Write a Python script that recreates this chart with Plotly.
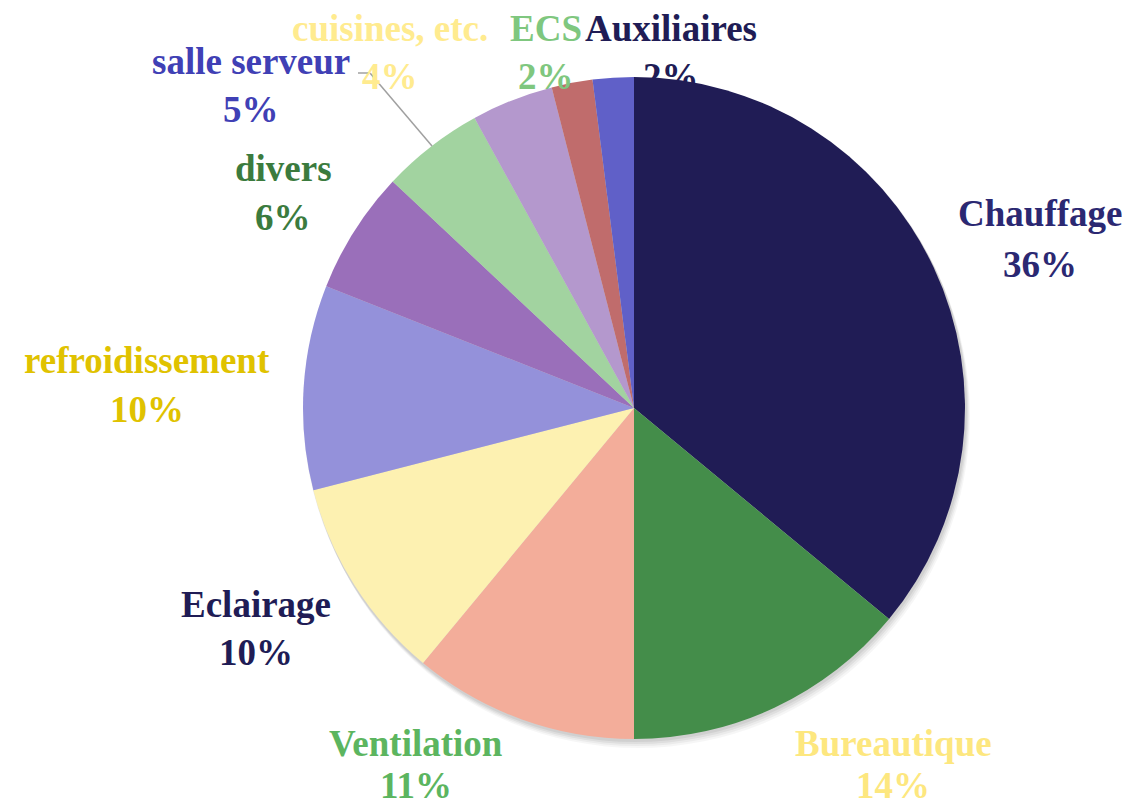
import plotly.graph_objects as go

labels = ["Chauffage", "Bureautique", "Ventilation", "Eclairage", "refroidissement",
          "divers", "salle serveur", "cuisines, etc.", "ECS", "Auxiliaires"]
values = [36, 14, 11, 10, 10, 6, 5, 4, 2, 2]
slice_colors = ["#201C55", "#448D4A", "#F3AD9A", "#FDF1B1", "#9491DA",
                "#9A6FBA", "#A2D3A0", "#B498CD", "#C06C6C", "#6060C8"]
label_colors = ["#2B2872", "#FDE77F", "#5CB55F", "#201C55", "#E0C200",
                "#3B7B3E", "#4040B5", "#FFEB8F", "#7FC77F", "#201C55"]
# label anchor (pixel centre x, centre y of name line, centre y of pct line)
label_pos = [(1040, 213, 264), (893, 743, 785), (416, 743, 785), (256, 604, 652),
             (147, 360, 409), (283, 168, 217), (251, 61, 110), (390, 29, 76),
             (546, 29, 76), (671, 29, 76)]

W, H = 1130, 806
OFF = 8  # page offset of the plot in the browser
cx, cy, R = 634, 408, 331

def px(x):
    return (x - OFF) / W

def py(y):
    return 1 - (y - OFF) / H

fig = go.Figure()

# soft shadow layers
for off, a in [(8, 0.035), (6, 0.045), (4, 0.055), (2, 0.06)]:
    fig.add_trace(go.Pie(
        values=[1], marker=dict(colors=[f"rgba(0,0,0,{a})"]), textinfo="none",
        hoverinfo="skip", showlegend=False, sort=False,
        domain=dict(x=[px(cx - R - 1 + off * 0.5), px(cx + R + 1 + off * 0.5)],
                    y=[py(cy + R + 1 + off), py(cy - R - 1 + off)])))

fig.add_trace(go.Pie(
    labels=labels, values=values, sort=False, direction="clockwise", rotation=0,
    marker=dict(colors=slice_colors, line=dict(width=0)),
    textinfo="none", showlegend=False,
    domain=dict(x=[px(cx - R), px(cx + R)], y=[py(cy + R), py(cy - R)])))

total = sum(values)
annotations = []
for lab, v, col, (x, y1, y2) in zip(labels, values, label_colors, label_pos):
    for txt, yy in ((lab, y1), (f"{round(100 * v / total)}%", y2)):
        annotations.append(dict(
            x=px(x), y=py(yy), xref="paper", yref="paper", text=txt, showarrow=False,
            xanchor="center", yanchor="middle", borderpad=0,
            font=dict(family="Liberation Serif", size=37, color=col, weight="bold")))

fig.update_layout(
    width=W, height=H, margin=dict(l=0, r=0, t=0, b=0),
    paper_bgcolor="white", plot_bgcolor="white",
    annotations=annotations,
    shapes=[dict(type="line", xref="paper", yref="paper",
                 x0=px(358), y0=py(73), x1=px(370), y1=py(73),
                 line=dict(color="#A0A0A0", width=1.5)),
            dict(type="line", xref="paper", yref="paper",
                 x0=px(370), y0=py(73), x1=px(432), y1=py(146),
                 line=dict(color="#A0A0A0", width=1.5))])

fig.write_html("out.html")
